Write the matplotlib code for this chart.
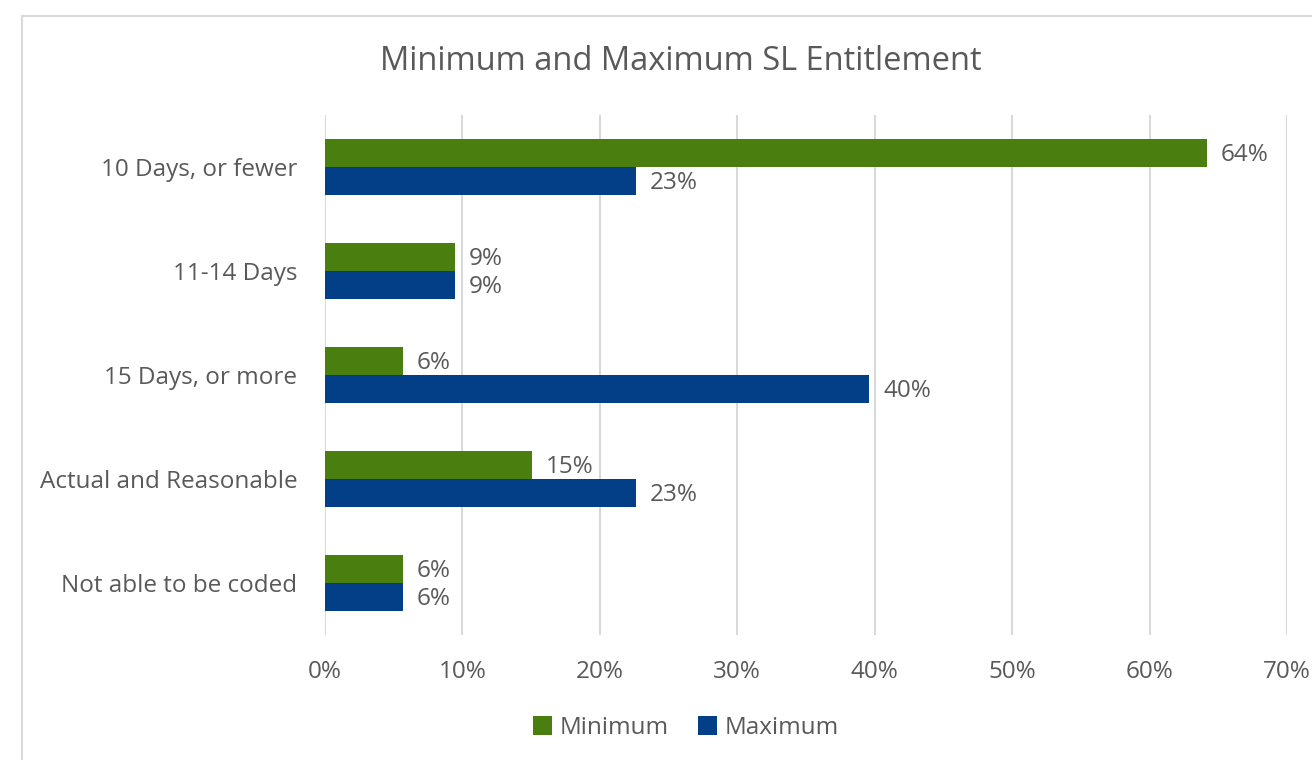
import matplotlib
matplotlib.use('Agg')
import matplotlib.pyplot as plt
from matplotlib.patches import Rectangle
import numpy as np

# ========== data ==========
categories = ['10 Days, or fewer', '11-14 Days', '15 Days, or more',
              'Actual and Reasonable', 'Not able to be coded']
minimum = [64.15, 9.43, 5.66, 15.09, 5.66]
maximum = [22.64, 9.43, 39.62, 22.64, 5.66]
xticks = [0, 10, 20, 30, 40, 50, 60, 70]

green = '#4A7F10'
blue = '#023F86'
text_col = '#595959'
grid_col = '#D9D9D9'

plt.rcParams['font.family'] = ['Open Sans', 'DejaVu Sans']

fig = plt.figure(figsize=(13.12, 7.6), dpi=100)
ax = fig.add_axes([325/1312, 1-635/760, (1287-325)/1312, (635-115)/760])

y = np.arange(len(categories))
h = 0.27
ax.barh(y - h/2, minimum, height=h, color=green, label='Minimum', zorder=3)
ax.barh(y + h/2, maximum, height=h, color=blue, label='Maximum', zorder=3)

# data labels, nudged a touch down like the original
for yi, v in zip(y, minimum):
    ax.text(v + 1.0, yi - h/2 + 0.02, f'{v:.0f}%', va='center', ha='left', fontsize=17.5, color=text_col)
for yi, v in zip(y, maximum):
    ax.text(v + 1.0, yi + h/2 + 0.02, f'{v:.0f}%', va='center', ha='left', fontsize=17.5, color=text_col)

ax.set_xlim(0, 70)
ax.set_ylim(len(categories) - 0.5, -0.5)
ax.set_xticks(xticks)
ax.set_xticklabels([f'{t}%' for t in xticks])
ax.set_yticks(y)
ax.set_yticklabels(categories)
ax.tick_params(axis='both', length=0, labelsize=17.5, labelcolor=text_col)
ax.tick_params(axis='y', pad=20)
ax.tick_params(axis='x', pad=18)
ax.grid(axis='x', color=grid_col, linewidth=1.5, zorder=0)
for s in ax.spines.values():
    s.set_visible(False)

fig.text(681/1312, 1-61/760, 'Minimum and Maximum SL Entitlement', ha='center', va='center',
         fontsize=23.5, color=text_col)

leg = fig.legend(loc='center', bbox_to_anchor=(686/1312, 1-728/760), ncol=2, frameon=False,
                 fontsize=17.5, handlelength=0.8, handleheight=0.8, handletextpad=0.3,
                 columnspacing=1.2)
for t in leg.get_texts():
    t.set_color(text_col)

# chart border (top-left corner visible only)
fig.patches.append(Rectangle((22/1312, -0.05), 1.1, 1-16/760+0.05, transform=fig.transFigure,
                             fill=False, edgecolor='#D9D9D9', linewidth=1.5))

fig.savefig('out.png', dpi=100)
